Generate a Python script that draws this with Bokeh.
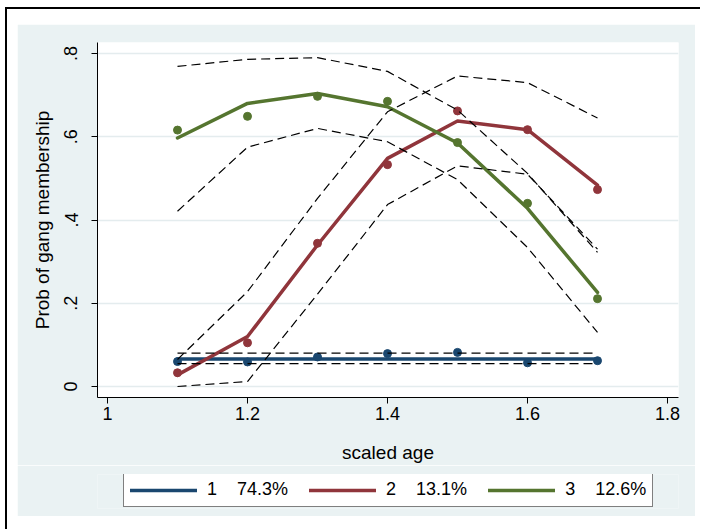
from bokeh.plotting import figure
from bokeh.models import FixedTicker, Legend, LegendItem, Range1d
from bokeh.layouts import column
from bokeh.embed import file_html
from bokeh.resources import INLINE

# ---------------- data ----------------
age = [1.1, 1.2, 1.3, 1.4, 1.5, 1.6, 1.7]

g1_obs = [0.060, 0.059, 0.071, 0.079, 0.082, 0.057, 0.062]
g1_fit = [0.066, 0.066, 0.066, 0.066, 0.066, 0.066, 0.066]
g1_hi = [0.080, 0.080, 0.080, 0.080, 0.080, 0.080, 0.080]
g1_lo = [0.055, 0.055, 0.055, 0.055, 0.055, 0.055, 0.055]

g2_obs = [0.033, 0.105, 0.344, 0.533, 0.662, 0.617, 0.473]
g2_fit = [0.028, 0.120, 0.340, 0.548, 0.638, 0.617, 0.484]
g2_hi = [0.065, 0.228, 0.452, 0.660, 0.746, 0.730, 0.645]
g2_lo = [0.000, 0.012, 0.222, 0.437, 0.530, 0.510, 0.330]

g3_obs = [0.616, 0.649, 0.697, 0.685, 0.586, 0.440, 0.211]
g3_fit = [0.597, 0.680, 0.704, 0.672, 0.585, 0.428, 0.226]
g3_hi = [0.769, 0.786, 0.790, 0.757, 0.664, 0.512, 0.322]
g3_lo = [0.421, 0.575, 0.620, 0.588, 0.497, 0.334, 0.130]

SP = "\u00a0"
legend_labels = ["1" + SP * 4 + "74.3%", "2" + SP * 4 + "13.1%", "3" + SP * 4 + "12.6%"]
x_ticks = [1.0, 1.2, 1.4, 1.6, 1.8]
x_tick_labels = ["1", "1.2", "1.4", "1.6", "1.8"]
y_ticks = [0.0, 0.2, 0.4, 0.6, 0.8]
y_tick_labels = ["0", ".2", ".4", ".6", ".8"]

NAVY = "#1A476F"
MAROON = "#90353B"
GREEN = "#55752F"
BG = "#EAF2F3"
FONT = "Liberation Sans"
COLORS = [NAVY, MAROON, GREEN]

# ---------------- main plot ----------------
p = figure(frame_width=581, frame_height=355,
           min_border_left=80, min_border_right=17,
           min_border_top=18, min_border_bottom=65,
           x_range=Range1d(0.9857, 1.8157), y_range=Range1d(-0.0264, 0.8264),
           output_backend="svg", toolbar_location=None,
           background_fill_color="white", border_fill_color=BG,
           margin=(24, 0, 0, 17))
p.styles = {"box-shadow": "-10px -15px 0 0 white, 5px -15px 0 0 white, -10px 16px 0 0 white, "
                          "-12px -17px 0 0 black, 5px -17px 0 0 black, -12px 16px 0 0 black"}
p.outline_line_color = None

p.xgrid.visible = False
p.ygrid.ticker = FixedTicker(ticks=y_ticks)
p.ygrid.grid_line_color = "#E4ECEE"
p.ygrid.grid_line_width = 1.5

for ax in (p.xaxis[0], p.yaxis[0]):
    ax.axis_line_color = "black"
    ax.axis_line_width = 1
    ax.major_tick_line_color = "black"
    ax.major_tick_out = 6
    ax.major_tick_in = 0
    ax.minor_tick_line_color = None
    ax.major_label_text_font = FONT
    ax.major_label_text_font_size = "18px"
    ax.major_label_text_color = "black"
    ax.axis_label_text_font = FONT
    ax.axis_label_text_font_size = "19px"
    ax.axis_label_text_font_style = "normal"
    ax.axis_label_text_color = "black"

p.xaxis.ticker = FixedTicker(ticks=x_ticks)
p.xaxis.major_label_overrides = dict(zip(x_ticks, x_tick_labels))
p.xaxis.axis_label = "scaled age"
p.xaxis.major_label_standoff = 3
p.xaxis.axis_label_standoff = 19

p.yaxis.ticker = FixedTicker(ticks=y_ticks)
p.yaxis.major_label_overrides = dict(zip(y_ticks, y_tick_labels))
p.yaxis.major_label_orientation = "vertical"
p.yaxis.axis_label = "Prob of gang membership"
p.yaxis.major_label_standoff = 14
p.yaxis.axis_label_standoff = 9

lw = 3.5
for fit, col in zip((g1_fit, g2_fit, g3_fit), COLORS):
    p.line(age, fit, line_color=col, line_width=lw, line_cap="round", line_join="round")

for obs, col in zip((g1_obs, g2_obs, g3_obs), COLORS):
    p.scatter(age, obs, size=8, fill_color=col, line_color=col)

for ys in (g1_hi, g1_lo, g2_hi, g2_lo, g3_hi, g3_lo):
    p.line(age, ys, line_color="black", line_width=1.2, line_dash="9 5")

# ---------------- legend strip (continues the grey graph region) ----------------
p2 = figure(frame_width=581, frame_height=34,
            min_border_left=80, min_border_right=17,
            min_border_top=9, min_border_bottom=8,
            x_range=Range1d(0, 1), y_range=Range1d(0, 1),
            x_axis_location=None, y_axis_location=None,
            output_backend="svg", toolbar_location=None,
            background_fill_color=BG, border_fill_color=BG,
            margin=(0, 0, 0, 17))
p2.styles = {"box-shadow": "-10px 0 0 0 white, -10px 16px 0 0 white, "
                           "-12px 0 0 0 black, -12px 16px 0 0 black"}
p2.outline_line_color = None
p2.grid.visible = False

# key-only renderers (a single NaN point: nothing is drawn, only the legend key)
key_renderers = [p2.line(x=[float("nan")], y=[float("nan")], line_color=col, line_width=lw,
                         line_cap="round", line_join="round") for col in COLORS]

legend = Legend(items=[LegendItem(label=lab, renderers=[r])
                       for lab, r in zip(legend_labels, key_renderers)],
                orientation="horizontal", location=(26, 1),
                label_text_font=FONT, label_text_font_size="18px",
                label_text_color="black",
                glyph_width=67, glyph_height=20, label_standoff=10,
                spacing=21, padding=6, margin=0,
                border_line_color="black", border_line_width=1,
                background_fill_color="white", background_fill_alpha=1)
p2.add_layout(legend)

layout = column(p, p2, spacing=0)

open("out.html", "w").write(file_html(layout, INLINE))
